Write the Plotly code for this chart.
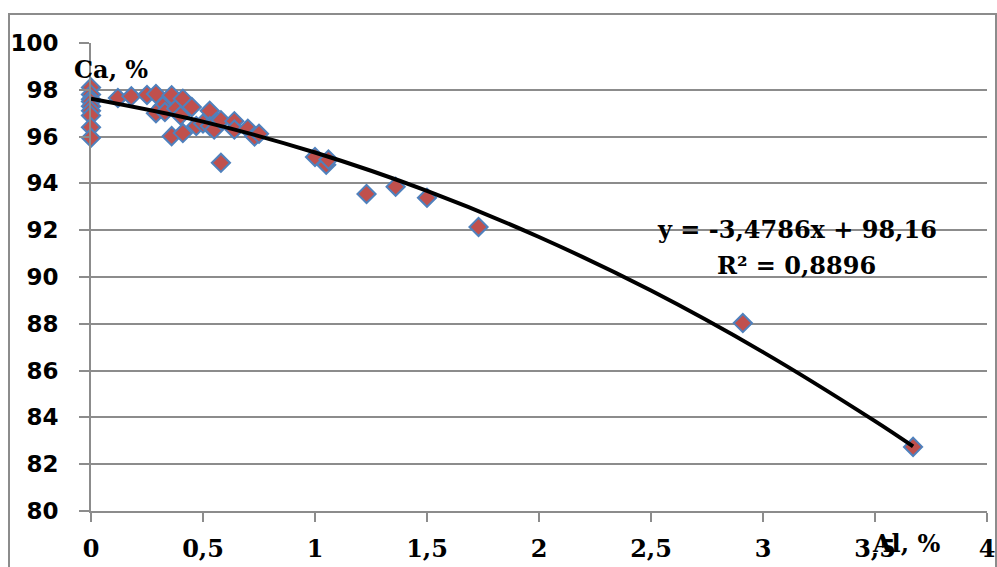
import plotly.graph_objects as go

# Data points: Al, % (x) vs Ca, % (y)
al = [0, 0, 0, 0, 0, 0, 0, 0, 0,
      0.12, 0.18, 0.25, 0.29, 0.32, 0.29, 0.33, 0.36, 0.38, 0.40,
      0.41, 0.36, 0.41, 0.45, 0.47, 0.50, 0.53, 0.53, 0.56, 0.55,
      0.58, 0.58, 0.64, 0.64, 0.70, 0.73, 0.75,
      1.00, 1.05, 1.06, 1.23, 1.36, 1.50, 1.73, 2.91, 3.67]
ca = [98.1, 97.8, 97.6, 97.5, 97.3, 97.1, 96.9, 96.4, 95.95,
      97.65, 97.72, 97.78, 97.82, 97.3, 97.0, 97.05, 97.77, 97.2, 96.9,
      97.62, 96.02, 96.15, 97.26, 96.45, 96.56, 97.1, 96.45, 96.62, 96.3,
      94.88, 96.7, 96.66, 96.3, 96.34, 96.0, 96.12,
      95.13, 94.8, 95.02, 93.55, 93.86, 93.39, 92.14, 88.03, 82.74]

# Trend line
trend_x = [0, 0.5, 1, 1.5, 2, 2.5, 3, 3.5, 3.67]
trend_y = [97.62, 96.64, 95.32, 93.68, 91.71, 89.42, 86.79, 83.84, 82.76]

x_ticks = [0, 0.5, 1, 1.5, 2, 2.5, 3, 3.5, 4]
x_tick_text = ["0", "0,5", "1", "1,5", "2", "2,5", "3", "3,5", "4"]
y_ticks = [80, 82, 84, 86, 88, 90, 92, 94, 96, 98, 100]

eq_line1 = "y = -3,4786x + 98,16"
eq_line2 = "R² = 0,8896"
y_title = "Ca, %"
x_title = "Al, %"

GRAY = "#8c8c8c"
SERIF = "DejaVu Serif"

fig = go.Figure()
fig.add_trace(go.Scatter(
    x=al, y=ca, mode="markers",
    marker=dict(symbol="diamond", size=14, color="#C0504D",
                line=dict(color="#4F81BD", width=2)),
    showlegend=False, hoverinfo="x+y", cliponaxis=False))
fig.add_trace(go.Scatter(
    x=trend_x, y=trend_y, mode="lines",
    line=dict(color="black", width=4, shape="spline"),
    showlegend=False, hoverinfo="skip"))

fig.update_layout(
    width=997, height=567,
    margin=dict(l=91, r=10, t=43, b=56, autoexpand=False),
    paper_bgcolor="white", plot_bgcolor="white",
    xaxis=dict(range=[0, 4], tickvals=x_ticks, ticktext=x_tick_text,
               automargin=False,
               showgrid=False, zeroline=False, showline=True,
               linecolor=GRAY, linewidth=2,
               ticks="outside", ticklen=9, tickwidth=2, tickcolor=GRAY,
               ticklabelstandoff=6,
               tickfont=dict(family=SERIF, size=24, color="black", weight="bold")),
    yaxis=dict(range=[80, 100], tickvals=y_ticks, automargin=False,
               showgrid=True, gridcolor=GRAY, gridwidth=2,
               zeroline=False, showline=True, linecolor=GRAY, linewidth=2,
               ticks="outside", ticklen=10, tickwidth=2, tickcolor=GRAY,
               ticklabelstandoff=16,
               tickfont=dict(family="DejaVu Sans", size=23, color="black", weight="bold")),
    shapes=[dict(type="rect", xref="paper", yref="paper",
                 x0=(9 - 91) / 896, x1=(996 - 91) / 896,
                 y0=(511 - 575) / 468, y1=(511 - 14) / 468,
                 line=dict(color=GRAY, width=2), layer="below")],
    annotations=[
        dict(text=y_title, x=0.089, y=98.85, xref="x", yref="y", xanchor="center", yanchor="middle",
             showarrow=False,
             font=dict(family=SERIF, size=24, color="black", weight="bold")),
        dict(text=x_title, x=3.64, y=80, xref="x", yref="y", xanchor="center", yanchor="middle",
             yshift=-32, showarrow=False,
             font=dict(family=SERIF, size=24, color="black", weight="bold")),
        dict(text=eq_line1, x=3.15, y=92.05, xref="x", yref="y", xanchor="center", yanchor="middle",
             showarrow=False, font=dict(family=SERIF, size=24, color="black", weight="bold")),
        dict(text=eq_line2, x=3.15, y=90.5, xref="x", yref="y", xanchor="center", yanchor="middle",
             showarrow=False, font=dict(family=SERIF, size=24, color="black", weight="bold")),
    ],
)

fig.write_html("out.html")
